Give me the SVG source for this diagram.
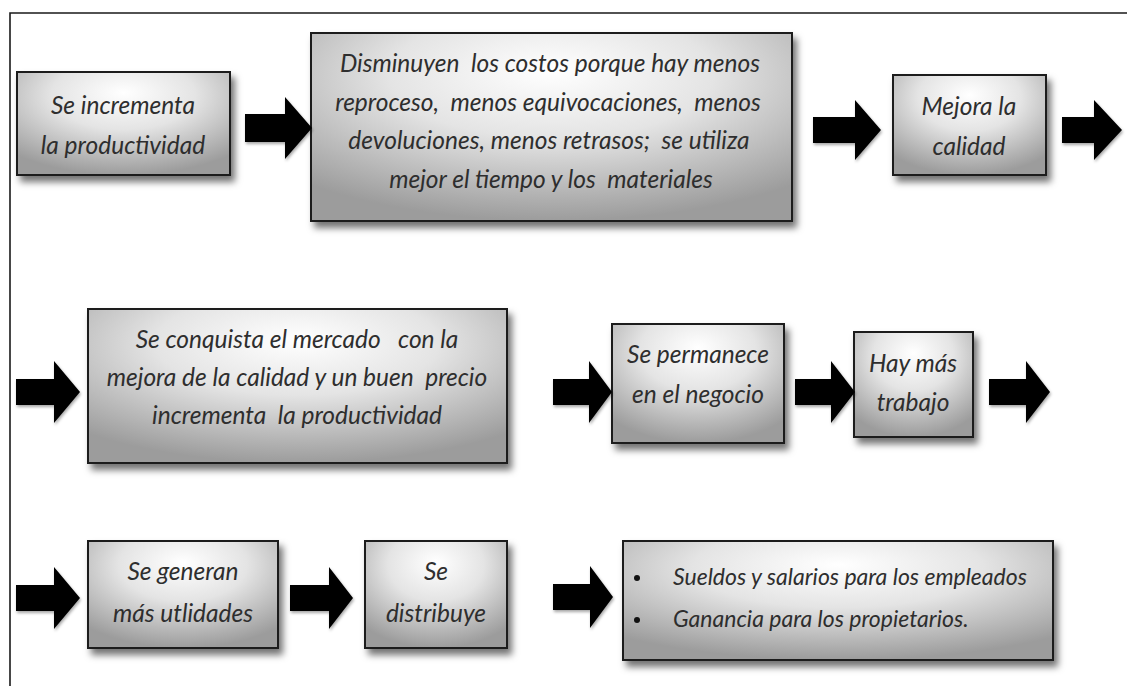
<svg xmlns="http://www.w3.org/2000/svg" width="1127" height="686" viewBox="0 0 1127 686">
<defs>
<radialGradient id="g" cx="50%" cy="25%" r="75%" fx="50%" fy="20%">
<stop offset="0" stop-color="#ffffff"/>
<stop offset="0.45" stop-color="#e4e4e4"/>
<stop offset="1" stop-color="#9c9c9c"/>
</radialGradient>
<filter id="sh" x="-10%" y="-10%" width="125%" height="130%">
<feDropShadow dx="4" dy="6" stdDeviation="3.5" flood-color="#000" flood-opacity="0.55"/>
</filter>
<filter id="ash" x="-10%" y="-10%" width="130%" height="130%">
<feDropShadow dx="1" dy="2" stdDeviation="1.5" flood-color="#000" flood-opacity="0.35"/>
</filter>
</defs>
<style>
.box{fill:url(#g);stroke:#1e1e1e;stroke-width:2;filter:url(#sh)}
.t{font-family:Lato,"Open Sans","Liberation Sans",sans-serif;font-style:italic;font-size:24.5px;fill:#2e2e2e;text-anchor:middle;white-space:pre}
.l{text-anchor:start;font-size:23px}
.arr{fill:#000;filter:url(#ash)}
</style>
<rect width="1127" height="686" fill="#fff"/>
<path d="M10,686 V13 H1127" fill="none" stroke="#1a1a1a" stroke-width="1.6"/>

<g id="n1"><rect class="box" x="17" y="72" width="213" height="103"/>
<text class="t" x="123" y="114">Se incrementa</text>
<text class="t" x="123" y="154">la productividad</text></g>

<g id="n2"><rect class="box" x="311" y="33" width="481" height="188"/>
<text class="t" x="550" y="72" xml:space="preserve">Disminuyen  los costos porque hay menos</text>
<text class="t" x="548" y="111" xml:space="preserve">reproceso,  menos equivocaciones,  menos</text>
<text class="t" x="549" y="149" xml:space="preserve">devoluciones, menos retrasos;  se utiliza</text>
<text class="t" x="551" y="188" xml:space="preserve">mejor el tiempo y los  materiales</text></g>

<g id="n3"><rect class="box" x="893" y="75" width="153" height="100"/>
<text class="t" x="969" y="115">Mejora la</text>
<text class="t" x="969" y="155">calidad</text></g>

<g id="n4"><rect class="box" x="88" y="309" width="419" height="154"/>
<text class="t" x="297" y="348" xml:space="preserve">Se conquista el mercado   con la</text>
<text class="t" x="297" y="386" xml:space="preserve">mejora de la calidad y un buen  precio</text>
<text class="t" x="297" y="424" xml:space="preserve">incrementa  la productividad</text></g>

<g id="n5"><rect class="box" x="612" y="324" width="172" height="119"/>
<text class="t" x="698" y="363">Se permanece</text>
<text class="t" x="698" y="403">en el negocio</text></g>

<g id="n6"><rect class="box" x="854" y="332" width="119" height="105"/>
<text class="t" x="913" y="372">Hay más</text>
<text class="t" x="913" y="411">trabajo</text></g>

<g id="n7"><rect class="box" x="88" y="541" width="190" height="107"/>
<text class="t" x="183" y="580">Se generan</text>
<text class="t" x="183" y="622">más utlidades</text></g>

<g id="n8"><rect class="box" x="365" y="541" width="142" height="107"/>
<text class="t" x="436" y="580">Se</text>
<text class="t" x="436" y="622">distribuye</text></g>

<g id="n9"><rect class="box" x="623" y="541" width="430" height="119"/>
<circle cx="637" cy="578" r="3" fill="#111"/>
<circle cx="637" cy="620" r="3" fill="#111"/>
<text class="t l" x="673" y="585">Sueldos y salarios para los empleados</text>
<text class="t l" x="673" y="627">Ganancia para los propietarios.</text></g>

<g id="connectors">
<path class="arr" d="M245,114 H285 V97 L312,128 L285,159 V142 H245 Z"/>
<path class="arr" d="M813,117 H855 V100 L881,130 L855,160 V143 H813 Z"/>
<path class="arr" d="M1062,117 H1094 V100 L1122,130 L1094,160 V143 H1062 Z"/>
<path class="arr" d="M16,379 H54 V361 L80,392 L54,423 V405 H16 Z"/>
<path class="arr" d="M553,379 H589 V361 L612,392 L589,423 V405 H553 Z"/>
<path class="arr" d="M795,379 H831 V361 L855,392 L831,423 V405 H795 Z"/>
<path class="arr" d="M989,379 H1026 V361 L1050,392 L1026,423 V405 H989 Z"/>
<path class="arr" d="M16,585 H54 V567 L80,598 L54,629 V611 H16 Z"/>
<path class="arr" d="M290,585 H329 V567 L353,598 L329,629 V611 H290 Z"/>
<path class="arr" d="M553,584 H590 V566 L613,597 L590,628 V610 H553 Z"/>
</g>
</svg>
